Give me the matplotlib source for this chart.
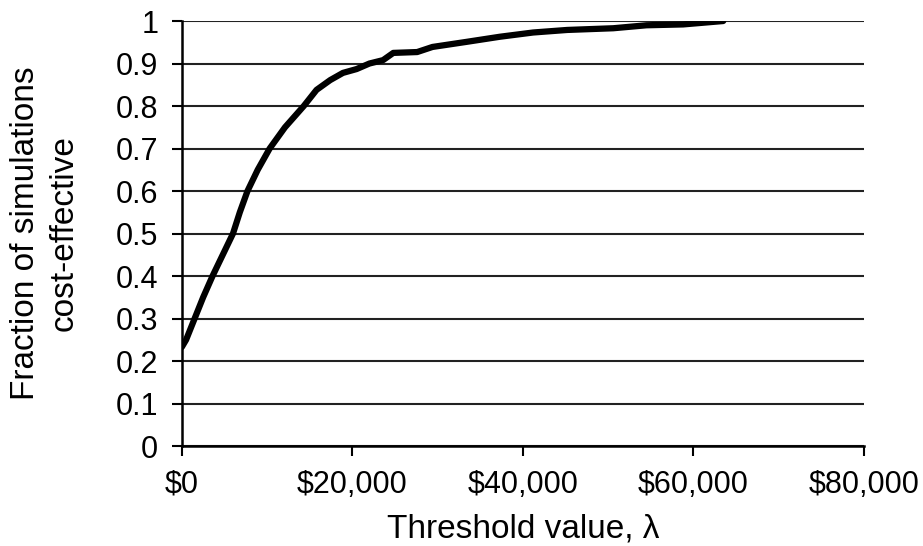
import matplotlib.pyplot as plt
from matplotlib.ticker import FuncFormatter

plt.rcParams['font.family'] = ['Liberation Sans', 'DejaVu Sans']

# Curva di accettabilita'
soglia = [0, 500, 1500, 2500, 3600, 4800, 6000, 6800, 7700, 8900, 10300, 12100,
          14300, 15800, 17400, 18900, 20500, 22000, 23600, 24800, 27600, 29400,
          33400, 37300, 41200, 45200, 50600, 54500, 58800, 63500]
frazione = [0.233, 0.25, 0.30, 0.35, 0.40, 0.45, 0.50, 0.55, 0.60, 0.65, 0.70, 0.75,
            0.80, 0.838, 0.861, 0.878, 0.887, 0.90, 0.908, 0.925, 0.927, 0.939,
            0.951, 0.963, 0.973, 0.979, 0.983, 0.99, 0.992, 1.0]

yticks = [0, 0.1, 0.2, 0.3, 0.4, 0.5, 0.6, 0.7, 0.8, 0.9, 1]
xticks = [0, 20000, 40000, 60000, 80000]

fig = plt.figure(figsize=(9.23, 5.46), dpi=100)
ax = fig.add_axes([0.197, 0.183, 0.739, 0.7785])

ax.plot(soglia, frazione, color='black', linewidth=4.5, solid_capstyle='round', zorder=3)

ax.set_xlim(0, 80000)
ax.set_ylim(0, 1)
ax.set_xticks(xticks)
ax.set_yticks(yticks)
ax.xaxis.set_major_formatter(FuncFormatter(lambda v, p: '${:,.0f}'.format(v)))
ax.yaxis.set_major_formatter(FuncFormatter(lambda v, p: '{:g}'.format(v)))

ax.grid(True, axis='y', color='#222222', linewidth=1.5)
ax.set_axisbelow(True)
for s in ['top', 'right']:
    ax.spines[s].set_visible(False)
for s in ['left', 'bottom']:
    ax.spines[s].set_linewidth(1.8)
    ax.spines[s].set_color('black')

ax.tick_params(axis='both', direction='out', length=7, width=1.5, labelsize=22, pad=10)

ax.set_xlabel('Threshold value, λ', fontsize=24, labelpad=10)
ax.set_ylabel('Fraction of simulations\ncost-effective', fontsize=24, labelpad=26,
              linespacing=1.3)

plt.savefig('out.png', dpi=100)
